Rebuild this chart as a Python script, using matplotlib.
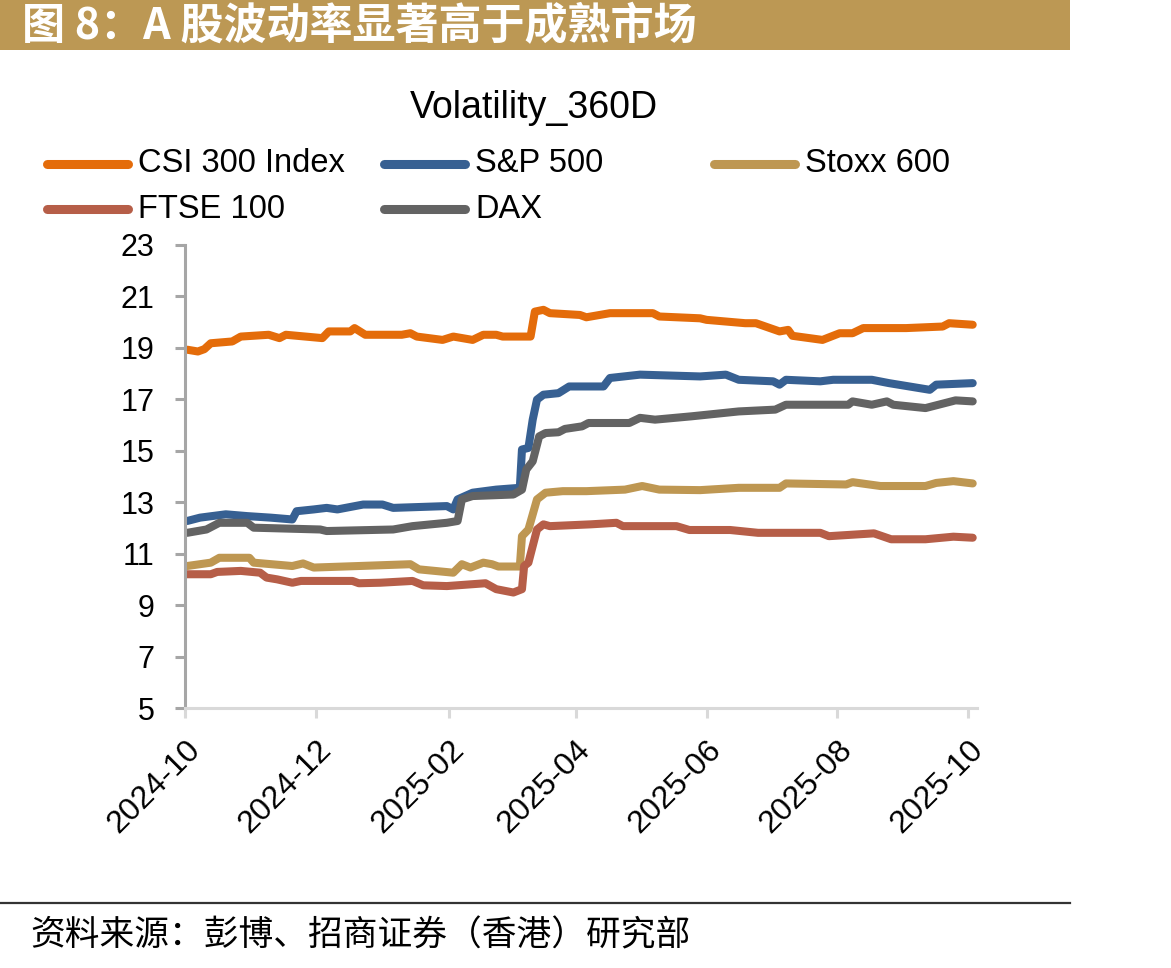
import matplotlib
matplotlib.use("Agg")
import matplotlib.pyplot as plt
import matplotlib.dates as mdates
from matplotlib.lines import Line2D
from matplotlib.patches import Rectangle
import pandas as pd

plt.rcParams['font.family'] = ['Liberation Sans', 'Noto Sans CJK SC', 'DejaVu Sans']

# ---- data ----
csi_dates = ['2024-10-02', '2024-10-07', '2024-10-10', '2024-10-13', '2024-10-23', '2024-10-27',
             '2024-11-09', '2024-11-14', '2024-11-17', '2024-12-04', '2024-12-07', '2024-12-17',
             '2024-12-19', '2024-12-24', '2025-01-10', '2025-01-14', '2025-01-17', '2025-01-29',
             '2025-02-03', '2025-02-12', '2025-02-17', '2025-02-23', '2025-02-26', '2025-03-11',
             '2025-03-13', '2025-03-17', '2025-03-20', '2025-04-03', '2025-04-06', '2025-04-17',
             '2025-05-07', '2025-05-10', '2025-05-29', '2025-06-01', '2025-06-19', '2025-06-24',
             '2025-07-05', '2025-07-09', '2025-07-11', '2025-07-25', '2025-08-02', '2025-08-08',
             '2025-08-13', '2025-09-02', '2025-09-19', '2025-09-22', '2025-10-03']
csi_vals = [18.93, 18.86, 18.95, 19.18, 19.25, 19.44,
            19.51, 19.38, 19.51, 19.38, 19.64, 19.64,
            19.77, 19.51, 19.51, 19.57, 19.44, 19.31,
            19.44, 19.31, 19.51, 19.51, 19.44, 19.44,
            20.41, 20.48, 20.35, 20.28, 20.19, 20.35,
            20.35, 20.22, 20.15, 20.09, 19.96, 19.96,
            19.64, 19.70, 19.47, 19.31, 19.57, 19.57,
            19.77, 19.77, 19.83, 19.96, 19.90]

spx_dates = ['2024-10-02', '2024-10-08', '2024-10-20', '2024-10-30', '2024-11-10', '2024-11-20',
             '2024-11-22', '2024-11-30', '2024-12-06', '2024-12-11', '2024-12-23', '2025-01-01',
             '2025-01-06', '2025-01-31', '2025-02-03', '2025-02-05', '2025-02-12', '2025-02-23',
             '2025-03-06', '2025-03-07', '2025-03-10', '2025-03-12', '2025-03-14', '2025-03-17',
             '2025-03-24', '2025-03-29', '2025-04-14', '2025-04-17', '2025-05-01', '2025-05-29',
             '2025-06-10', '2025-06-16', '2025-07-02', '2025-07-05', '2025-07-08', '2025-07-24',
             '2025-07-30', '2025-08-17', '2025-08-25', '2025-09-13', '2025-09-16', '2025-10-03']
spx_vals = [12.27, 12.40, 12.53, 12.46, 12.40, 12.33,
            12.65, 12.72, 12.78, 12.72, 12.91, 12.91,
            12.78, 12.85, 12.72, 13.11, 13.37, 13.49,
            13.56, 15.05, 15.11, 16.21, 16.99, 17.18,
            17.24, 17.50, 17.50, 17.83, 17.96, 17.89,
            17.96, 17.76, 17.70, 17.57, 17.76, 17.70,
            17.76, 17.76, 17.63, 17.37, 17.57, 17.63]

stoxx_dates = ['2024-10-02', '2024-10-13', '2024-10-17', '2024-10-31', '2024-11-02', '2024-11-20',
               '2024-11-25', '2024-11-30', '2024-12-21', '2025-01-14', '2025-01-18', '2025-02-03',
               '2025-02-07', '2025-02-11', '2025-02-17', '2025-02-21', '2025-02-24', '2025-03-06',
               '2025-03-07', '2025-03-10', '2025-03-14', '2025-03-18', '2025-03-26', '2025-04-06',
               '2025-04-24', '2025-05-02', '2025-05-10', '2025-05-29', '2025-06-16', '2025-07-05',
               '2025-07-08', '2025-08-05', '2025-08-08', '2025-08-21', '2025-09-11', '2025-09-16',
               '2025-09-24', '2025-10-03']
stoxx_vals = [10.52, 10.65, 10.84, 10.84, 10.65, 10.52,
              10.62, 10.46, 10.52, 10.59, 10.39, 10.26,
              10.59, 10.46, 10.65, 10.59, 10.50, 10.50,
              11.68, 11.94, 13.11, 13.37, 13.43, 13.43,
              13.49, 13.63, 13.49, 13.47, 13.56, 13.56,
              13.73, 13.69, 13.78, 13.63, 13.63, 13.75,
              13.82, 13.73]

ftse_dates = ['2024-10-02', '2024-10-13', '2024-10-16', '2024-10-27', '2024-11-05', '2024-11-08',
              '2024-11-13', '2024-11-20', '2024-11-24', '2024-12-18', '2024-12-21', '2024-12-31',
              '2025-01-15', '2025-01-20', '2025-01-31', '2025-02-18', '2025-02-23', '2025-03-03',
              '2025-03-07', '2025-03-08', '2025-03-10', '2025-03-14', '2025-03-17', '2025-03-20',
              '2025-04-08', '2025-04-20', '2025-04-23', '2025-05-18', '2025-05-24', '2025-06-12',
              '2025-06-25', '2025-07-24', '2025-07-28', '2025-08-18', '2025-08-26', '2025-09-11',
              '2025-09-24', '2025-10-03']
ftse_vals = [10.20, 10.20, 10.29, 10.33, 10.26, 10.07,
             10.00, 9.87, 9.94, 9.94, 9.85, 9.87,
             9.94, 9.77, 9.74, 9.85, 9.62, 9.49,
             9.62, 10.52, 10.65, 11.94, 12.14, 12.07,
             12.14, 12.20, 12.07, 12.07, 11.92, 11.92,
             11.81, 11.81, 11.68, 11.79, 11.56, 11.56,
             11.66, 11.62]

dax_dates = ['2024-10-02', '2024-10-11', '2024-10-17', '2024-10-30', '2024-11-02', '2024-12-03',
             '2024-12-06', '2025-01-06', '2025-01-15', '2025-01-31', '2025-02-05', '2025-02-07',
             '2025-02-12', '2025-03-03', '2025-03-07', '2025-03-09', '2025-03-12', '2025-03-15',
             '2025-03-18', '2025-03-24', '2025-03-27', '2025-04-04', '2025-04-07', '2025-04-26',
             '2025-05-01', '2025-05-08', '2025-05-25', '2025-06-16', '2025-07-03', '2025-07-08',
             '2025-08-06', '2025-08-08', '2025-08-17', '2025-08-24', '2025-08-27', '2025-09-11',
             '2025-09-25', '2025-10-03']
dax_vals = [11.81, 11.94, 12.20, 12.20, 12.01, 11.94,
            11.88, 11.94, 12.07, 12.20, 12.27, 13.11,
            13.24, 13.30, 13.49, 14.27, 14.59, 15.56,
            15.69, 15.72, 15.85, 15.95, 16.08, 16.08,
            16.28, 16.21, 16.34, 16.53, 16.60, 16.79,
            16.79, 16.92, 16.79, 16.92, 16.79, 16.66,
            16.96, 16.92]

series = [
    ('CSI 300 Index', csi_dates, csi_vals, '#E46C0A'),
    ('S&P 500', spx_dates, spx_vals, '#376092'),
    ('Stoxx 600', stoxx_dates, stoxx_vals, '#BE9752'),
    ('FTSE 100', ftse_dates, ftse_vals, '#B65E48'),
    ('DAX', dax_dates, dax_vals, '#636363'),
]

W, H = 1171, 968
fig = plt.figure(figsize=(W / 100, H / 100), dpi=100)


def fx(px):
    return px / W


def fy(py):
    return 1 - py / H


ax = fig.add_axes([fx(185), fy(708), fx(977) - fx(185), fy(245) - fy(708)])

for name, d, v, c in series:
    ax.plot(pd.to_datetime(d), v, color=c, lw=5.8, solid_capstyle='round',
            solid_joinstyle='round', label=name)

ax.set_ylim(5, 23)
ax.set_yticks(range(5, 24, 2))
ax.set_xlim(pd.Timestamp('2024-10-01'), pd.Timestamp('2025-10-05'))
ax.set_xticks(pd.date_range('2024-10-01', '2025-10-01', freq='2MS'))
ax.xaxis.set_major_formatter(mdates.DateFormatter('%Y-%m'))

for s in ['top', 'right']:
    ax.spines[s].set_visible(False)
ax.spines['left'].set_color('#A6A6A6')
ax.spines['left'].set_linewidth(2.2)
ax.spines['bottom'].set_color('#D9D9D9')
ax.spines['bottom'].set_linewidth(2.2)
ax.tick_params(axis='y', direction='out', length=7, width=2.2, color='#A6A6A6',
               labelsize=22, pad=15)
ax.tick_params(axis='x', direction='out', length=7, width=2.2, color='#D9D9D9',
               labelsize=23, pad=12)
for lab in ax.get_xticklabels():
    lab.set_rotation(45)
    lab.set_ha('right')
    lab.set_va('top')
    lab.set_rotation_mode('anchor')

# title
fig.text(fx(534), fy(108), 'Volatility_360D', fontsize=27, ha='center', va='center')

# legend laid out like the original (3 columns, 2 rows)
leg_pos = [(43, 164), (380, 164), (710, 164), (43, 209), (380, 209)]
for (name, d, v, c), (x0, y0) in zip(series, leg_pos):
    fig.add_artist(Line2D([fx(x0 + 4), fx(x0 + 85)], [fy(y0), fy(y0)], color=c, lw=6.5,
                          solid_capstyle='round', transform=fig.transFigure))
    fig.text(fx(x0 + 95), fy(y0), name, fontsize=23.5, ha='left', va='center')

# header bar
fig.add_artist(Rectangle((0, fy(50)), fx(1070), 1 - fy(50), transform=fig.transFigure,
                         facecolor='#BC9854', edgecolor='none'))
fig.text(fx(22), fy(26), '图 8：A 股波动率显著高于成熟市场', fontsize=31, fontweight='bold',
         color='white', ha='left', va='center', family=['Noto Sans CJK SC', 'DejaVu Sans'])

# footer
fig.add_artist(Line2D([0, fx(1070)], [fy(903), fy(903)], color='#333333', lw=1.6,
                      transform=fig.transFigure))
fig.text(fx(30), fy(936), '资料来源：彭博、招商证券（香港）研究部', fontsize=25,
         ha='left', va='center', family=['Noto Sans CJK SC', 'DejaVu Sans'])

fig.savefig('out.png', dpi=100)
